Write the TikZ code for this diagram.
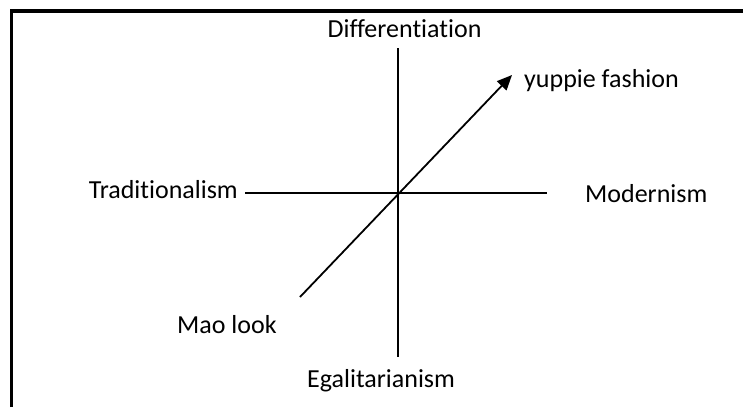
\documentclass[tikz,border=0pt]{standalone}
\usepackage{fontspec}
\setmainfont{Carlito}[RawFeature={-liga;-clig;-dlig}]
\usetikzlibrary{arrows.meta}
\begin{document}
\begin{tikzpicture}[x=1pt,y=-1pt,
  lbl/.style={inner sep=0pt,font=\fontsize{26}{30}\selectfont},
  axis/.style={line width=1.6pt},
  trend/.style={line width=1.8pt,-{Triangle[length=15pt,width=13pt]}},
  frame/.style={line width=3.4pt,line join=miter}]
\useasboundingbox (0,0) rectangle (743,407);
\draw[frame] (11.7,407) -- (11.7,11) -- (743,11);
% axis end points
\coordinate (top) at (398,48);
\coordinate (bot) at (398,357);
\coordinate (lft) at (245,193);
\coordinate (rgt) at (547,193);
\coordinate (start) at (300,297);
\coordinate (tip) at (512,75);
% labels
\node[lbl,anchor=base] (diff) at (404.5,37) {Differentiation};
\node[lbl,anchor=base west] (yup) at (524,87) {yuppie fashion};
\node[lbl,anchor=base east] (trad) at (238,198) {Traditionalism};
\node[lbl,anchor=base west] (mod) at (585,202) {Modernism};
\node[lbl,anchor=base west] (mao) at (177,333) {Mao look};
\node[lbl,anchor=base west] (egal) at (307,387) {Egalitarianism};
% axes
\draw[axis] (top) -- (bot);
\draw[axis] (lft) -- (rgt);
\draw[trend] (start) -- (tip);
\end{tikzpicture}
\end{document}
